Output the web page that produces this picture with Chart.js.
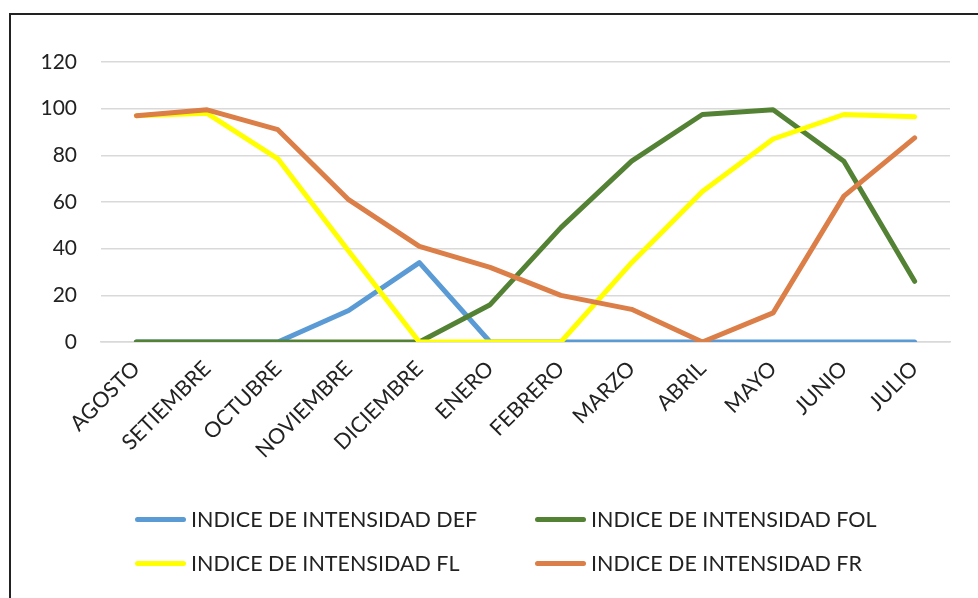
<!DOCTYPE html>
<html>
<head>
<meta charset="utf-8">
<script src="https://cdn.jsdelivr.net/npm/chart.js@4"></script>
<style>
  body { margin: 0; background: #fff; }
  #frame { position: absolute; left: 9px; top: 13px; width: 980px; height: 600px;
           border-left: 2px solid #222; border-top: 2px solid #222; }
  #wrap { position: absolute; left: 0; top: 0; width: 978px; height: 598px; }
  .legend { position: absolute; font-family: Lato, sans-serif; font-size: 21.5px; color: #222; }
  .item { position: absolute; white-space: nowrap; display: flex; align-items: center; }
  .swatch { display: inline-block; width: 51px; height: 5px; border-radius: 3px; margin-right: 5px; }
</style>
</head>
<body>
<div id="frame"></div>
<div id="wrap"><canvas id="chart" width="978" height="598"></canvas></div>
<div class="legend" id="legend"></div>
<script>
// Months
const months = ['AGOSTO', 'SETIEMBRE', 'OCTUBRE', 'NOVIEMBRE', 'DICIEMBRE', 'ENERO',
                'FEBRERO', 'MARZO', 'ABRIL', 'MAYO', 'JUNIO', 'JULIO'];

// Series values
const defData = [0, 0, 0, 13.5, 34, 0, 0, 0, 0, 0, 0, 0];
const folData = [0, 0, 0, 0, 0, 16, 49, 77.5, 97.5, 99.5, 77.5, 26];
const flData  = [97, 98, 78.5, 39, 0, 0, 0, 34, 64.5, 87, 97.5, 96.5];
const frData  = [97, 99.5, 91, 61, 41, 32, 20, 14, 0, 12.5, 62.5, 87.5];

const seriesNames = ['INDICE DE INTENSIDAD DEF', 'INDICE DE INTENSIDAD FOL',
                     'INDICE DE INTENSIDAD FL', 'INDICE DE INTENSIDAD FR'];
const seriesColors = ['#5B9BD5', '#548235', '#FFFF00', '#DB7E47'];

function makeSet(i, data, order) {
    return {
        label: seriesNames[i],
        data: data,
        borderColor: seriesColors[i],
        backgroundColor: seriesColors[i],
        borderWidth: 5,
        borderCapStyle: 'round',
        borderJoinStyle: 'round',
        pointRadius: 0,
        tension: 0,
        order: order
    };
}

new Chart(document.getElementById('chart'), {
    type: 'line',
    data: {
        labels: months,
        datasets: [
            makeSet(0, defData, 3),
            makeSet(1, folData, 2),
            makeSet(2, flData, 1),
            makeSet(3, frData, 0)
        ]
    },
    options: {
        responsive: false,
        animation: false,
        layout: { padding: { left: 0, right: 28, top: 62, bottom: 126 } },
        plugins: { legend: { display: false }, tooltip: { enabled: false } },
        scales: {
            x: {
                offset: true,
                grid: { display: false, drawTicks: false },
                border: { display: true, color: '#D9D9D9', width: 1.5 },
                ticks: {
                    minRotation: 45, maxRotation: 45, padding: 14,
                    color: '#222', font: { family: 'Lato', size: 21.5 }
                },
                afterFit: (scale) => { scale.height = 130; }
            },
            y: {
                min: 0, max: 120,
                grid: { color: '#D9D9D9', lineWidth: 1.5, drawTicks: false },
                border: { display: false },
                ticks: {
                    stepSize: 20, padding: 24,
                    color: '#222', font: { family: 'Lato', size: 21 }
                },
                afterFit: (scale) => { scale.width = 101; }
            }
        }
    }
});

// Legend in two columns, like the original
const legendPos = [[135, 519], [535, 519], [135, 563], [535, 563]];
const legend = document.getElementById('legend');
seriesNames.forEach((name, i) => {
    const item = document.createElement('div');
    item.className = 'item';
    item.style.left = legendPos[i][0] + 'px';
    item.style.top = (legendPos[i][1] - 13) + 'px';
    item.innerHTML = '<span class="swatch" style="background:' + seriesColors[i] + '"></span>' + name;
    legend.appendChild(item);
});
</script>
</body>
</html>
